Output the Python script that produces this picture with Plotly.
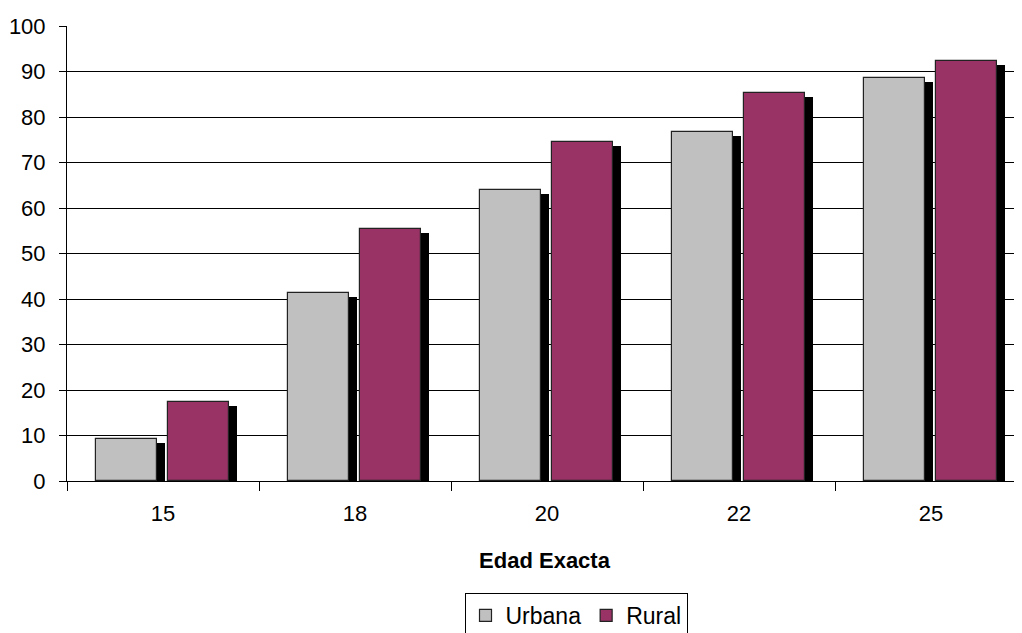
import plotly.graph_objects as go

categories = ["15", "18", "20", "22", "25"]
urbana = [9.3, 41.4, 64.0, 76.7, 88.6]
rural = [17.4, 55.4, 74.5, 85.2, 92.4]
series_names = ["Urbana", "Rural"]
y_ticks = list(range(0, 101, 10))

# page has an 8px body margin; compensate
BODY = 8
L, T, B = 67 - BODY, 26 - BODY, 152
W, H = 1022 - BODY, 633 - BODY
plot_w = W - L
plot_h = H - T - B
cat_px = 192.0
units_per_px = 1.0 / cat_px
y_units_per_px = 100.0 / plot_h

bar_w = 61 * units_per_px
offsets = [-67 * units_per_px, 5 * units_per_px]
sh_dx = 8 * units_per_px
sh_dy = 4 * y_units_per_px
colors = ["#C0C0C0", "#993366"]

fig = go.Figure()
# shadows
for vals, off in zip([urbana, rural], offsets):
    fig.add_trace(go.Bar(
        x=categories, y=[v - sh_dy for v in vals], width=bar_w, offset=off + sh_dx,
        marker=dict(color="#000000", line=dict(width=0)), showlegend=False, hoverinfo="skip"))
for vals, off, c, n in zip([urbana, rural], offsets, colors, series_names):
    fig.add_trace(go.Bar(
        x=categories, y=vals, width=bar_w, offset=off, name=n,
        marker=dict(color=c, line=dict(color="#222222", width=1.2))))

FS = 22
fig.update_layout(
    width=W, height=H, barmode="overlay",
    margin=dict(l=L, r=0, t=T, b=B, pad=0),
    plot_bgcolor="white", paper_bgcolor="white",
    font=dict(family="Liberation Sans, Arial, sans-serif", size=FS, color="#000000"),
    xaxis=dict(type="category", range=[-0.5, -0.5 + plot_w / cat_px],
               showline=True, linecolor="#000000", linewidth=1,
               ticks="outside", tickson="boundaries", ticklen=9, tickcolor="#000000",
               showgrid=False, tickfont=dict(size=FS), ticklabelstandoff=13,
               title=dict(text="<b>Edad Exacta</b>", font=dict(size=FS), standoff=27)),
    yaxis=dict(range=[0, 100], tickvals=y_ticks, showline=True, linecolor="#000000",
               linewidth=1, ticks="outside", ticklen=7, tickcolor="#000000",
               showgrid=True, gridcolor="#000000", gridwidth=1, zeroline=False,
               tickfont=dict(size=FS), ticklabelstandoff=9),
    legend=dict(orientation="h", x=(576 - 67) / plot_w, xanchor="center",
                yref="container", y=1 - (593 - BODY) / H, yanchor="top",
                bordercolor="#000000", borderwidth=1, font=dict(size=23),
                itemwidth=30, tracegroupgap=0),
    bargap=0,
)
fig.write_html("out.html")
